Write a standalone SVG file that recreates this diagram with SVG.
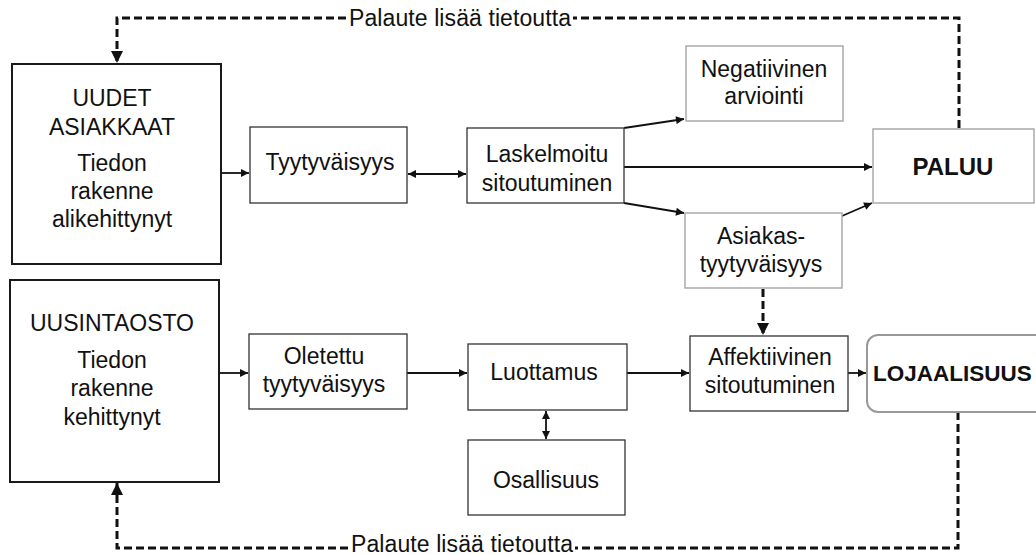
<svg xmlns="http://www.w3.org/2000/svg" width="1036" height="555" viewBox="0 0 1036 555">
<style>
text{font-family:"Liberation Sans",Arial,sans-serif;font-size:23px;fill:#111;text-anchor:middle}
.b{font-weight:bold;font-size:24px}
.main{fill:#fff;stroke:#1a1a1a;stroke-width:2}
.box{fill:#fff;stroke:#333;stroke-width:1.3}
.gray{fill:#fff;stroke:#aaa;stroke-width:1.5}
.lg{fill:#fff;stroke:#999;stroke-width:2}
.ar{fill:none;stroke:#111;stroke-width:1.8}
.da{fill:none;stroke:#111;stroke-width:3;stroke-dasharray:8 4}
</style>
<defs>
<marker id="a" viewBox="0 0 10 10" refX="10" refY="5" markerWidth="9" markerHeight="8" markerUnits="userSpaceOnUse" orient="auto-start-reverse"><path d="M0,0L10,5L0,10z" fill="#111"/></marker>
<marker id="d" viewBox="0 0 10 10" refX="10" refY="5" markerWidth="14" markerHeight="12" markerUnits="userSpaceOnUse" orient="auto"><path d="M0,0L10,5L0,10z" fill="#111"/></marker>
</defs>

<g id="connectors">
<line class="ar" x1="221" y1="173" x2="249" y2="173" marker-end="url(#a)"/>
<line class="ar" x1="408" y1="174" x2="466" y2="174" marker-start="url(#a)" marker-end="url(#a)"/>
<line class="ar" x1="624" y1="128" x2="684" y2="119" marker-end="url(#a)"/>
<line class="ar" x1="624" y1="167" x2="872" y2="167" marker-end="url(#a)"/>
<line class="ar" x1="624" y1="203" x2="684" y2="213" marker-end="url(#a)"/>
<line class="ar" x1="842" y1="216" x2="872" y2="203" marker-end="url(#a)"/>
<line class="ar" x1="219" y1="373" x2="248" y2="373" marker-end="url(#a)"/>
<line class="ar" x1="407" y1="373" x2="467" y2="373" marker-end="url(#a)"/>
<line class="ar" x1="546" y1="411" x2="546" y2="439" marker-start="url(#a)" marker-end="url(#a)"/>
<line class="ar" x1="627" y1="373" x2="689" y2="373" marker-end="url(#a)"/>
<line class="ar" x1="848" y1="373" x2="866" y2="373" marker-end="url(#a)"/>
<line class="da" x1="763" y1="289" x2="763" y2="335" marker-end="url(#d)"/>
<path class="da" d="M959,128V18H573"/>
<path class="da" d="M346,18H117V63" marker-end="url(#d)"/>
<path class="da" d="M958,412V548H575"/>
<path class="da" d="M348,548H117V483" marker-end="url(#d)"/>
<text x="460" y="26" textLength="222">Palaute lisää tietoutta</text>
<text x="462" y="552" textLength="222">Palaute lisää tietoutta</text>
</g>

<g id="uudet">
<rect class="main" x="12" y="64" width="209" height="200"/>
<text x="112" y="106">UUDET</text>
<text x="112" y="135">ASIAKKAAT</text>
<text x="112" y="171">Tiedon</text>
<text x="112" y="199">rakenne</text>
<text x="112" y="227">alikehittynyt</text>
</g>

<g id="tyytyvaisyys">
<rect class="box" x="250" y="127" width="157" height="76"/>
<text x="330" y="170">Tyytyväisyys</text>
</g>

<g id="laskelmoitu">
<rect class="box" x="467" y="128" width="157" height="75"/>
<text x="547" y="162">Laskelmoitu</text>
<text x="547" y="191">sitoutuminen</text>
</g>

<g id="negatiivinen">
<rect class="gray" x="686" y="46" width="157" height="75"/>
<text x="764" y="77">Negatiivinen</text>
<text x="764" y="104">arviointi</text>
</g>

<g id="paluu">
<rect class="gray" x="873" y="129" width="161" height="74"/>
<text class="b" x="953" y="175">PALUU</text>
</g>

<g id="asiakastyytyvaisyys">
<rect class="gray" x="685" y="213" width="157" height="75"/>
<text x="761" y="244">Asiakas-</text>
<text x="761" y="272">tyytyväisyys</text>
</g>

<g id="uusintaosto">
<rect class="main" x="10" y="280" width="209" height="202"/>
<text x="112" y="331">UUSINTAOSTO</text>
<text x="112" y="368">Tiedon</text>
<text x="112" y="396">rakenne</text>
<text x="112" y="425">kehittynyt</text>
</g>

<g id="oletettu">
<rect class="box" x="249" y="334" width="158" height="75"/>
<text x="324" y="364">Oletettu</text>
<text x="324" y="392">tyytyväisyys</text>
</g>

<g id="luottamus">
<rect class="box" x="468" y="344" width="159" height="66"/>
<text x="544" y="380">Luottamus</text>
</g>

<g id="osallisuus">
<rect class="box" x="468" y="440" width="157" height="75"/>
<text x="546" y="488">Osallisuus</text>
</g>

<g id="affektiivinen">
<rect class="box" x="690" y="336" width="158" height="75"/>
<text x="770" y="365">Affektiivinen</text>
<text x="770" y="393">sitoutuminen</text>
</g>

<g id="lojaalisuus">
<rect class="lg" x="867" y="335" width="180" height="77" rx="11"/>
<text class="b" x="873" y="381" style="text-anchor:start;font-size:22.5px">LOJAALISUUS</text>
</g>
</svg>
